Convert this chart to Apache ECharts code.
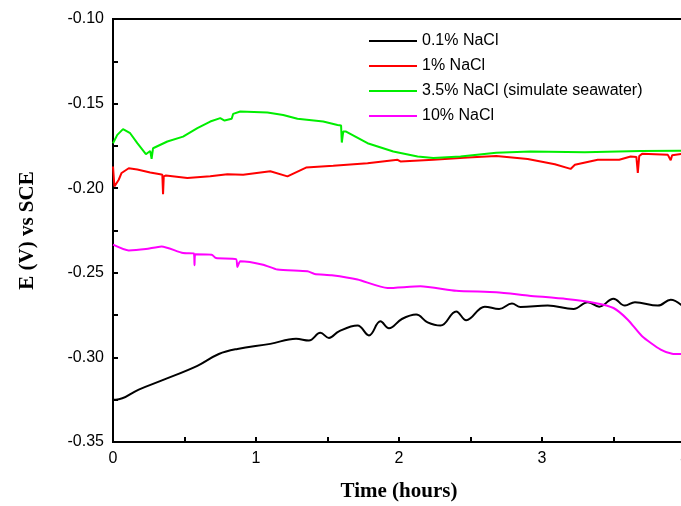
<!DOCTYPE html>
<html>
<head>
<meta charset="utf-8">
<script src="https://cdn.jsdelivr.net/npm/echarts@6/dist/echarts.min.js"></script>
<style>
  html, body { margin: 0; padding: 0; background: #fff; }
  #chart { width: 681px; height: 506px; }
</style>
</head>
<body>
<div id="chart"></div>
<script>
// 开路电位 vs 时间
const seriesNames = ['0.1% NaCl', '1% NaCl', '3.5% NaCl (simulate seawater)', '10% NaCl'];
const seriesColors = ['#000000', '#ff0000', '#00ee00', '#ff00ff'];

// 0.1% NaCl
const tBlack = [0, 0.02, 0.18, 0.36, 0.59, 0.74, 0.87, 1.10, 1.28, 1.37, 1.45, 1.51, 1.58, 1.71, 1.79, 1.87, 1.93, 2.02, 2.12, 2.20, 2.29, 2.40, 2.47, 2.60, 2.70, 2.79, 2.85, 3.04, 3.22, 3.32, 3.40, 3.50, 3.58, 3.65, 3.81, 3.90, 3.98];
const vBlack = [-0.325, -0.325, -0.319, -0.313, -0.305, -0.298, -0.295, -0.292, -0.289, -0.290, -0.2855, -0.2885, -0.2846, -0.2812, -0.287, -0.2787, -0.2828, -0.2773, -0.2747, -0.2793, -0.2812, -0.2728, -0.278, -0.270, -0.2714, -0.2682, -0.2702, -0.2694, -0.2714, -0.2674, -0.270, -0.2653, -0.2694, -0.2674, -0.2694, -0.2659, -0.2694];

// 1% NaCl
const tRed = [0, 0.01, 0.04, 0.06, 0.11, 0.17, 0.26, 0.33, 0.345, 0.35, 0.355, 0.37, 0.52, 0.68, 0.80, 0.91, 1.10, 1.22, 1.35, 1.54, 1.78, 1.99, 2.01, 2.24, 2.48, 2.68, 2.90, 3.09, 3.20, 3.23, 3.39, 3.54, 3.62, 3.66, 3.67, 3.68, 3.70, 3.88, 3.90, 3.91, 3.98];
const vRed = [-0.1872, -0.199, -0.195, -0.191, -0.1882, -0.189, -0.1907, -0.1917, -0.192, -0.2035, -0.193, -0.1925, -0.194, -0.193, -0.1917, -0.192, -0.190, -0.193, -0.1878, -0.1868, -0.1852, -0.1832, -0.1842, -0.1832, -0.1818, -0.1809, -0.1828, -0.1858, -0.1886, -0.1862, -0.1832, -0.1832, -0.1813, -0.1815, -0.191, -0.181, -0.1797, -0.1803, -0.1835, -0.1805, -0.1797];

// 3.5% NaCl
const tGreen = [0, 0.01, 0.03, 0.07, 0.12, 0.17, 0.23, 0.26, 0.27, 0.28, 0.38, 0.49, 0.59, 0.68, 0.75, 0.78, 0.83, 0.84, 0.89, 1.08, 1.19, 1.29, 1.47, 1.57, 1.595, 1.60, 1.61, 1.63, 1.78, 1.96, 2.13, 2.24, 2.43, 2.68, 2.92, 3.30, 3.69, 3.98];
const vGreen = [-0.1734, -0.1734, -0.1685, -0.1651, -0.1675, -0.1734, -0.1799, -0.178, -0.1826, -0.1764, -0.1724, -0.1695, -0.1645, -0.1606, -0.1586, -0.160, -0.159, -0.1561, -0.1547, -0.1553, -0.1567, -0.159, -0.1606, -0.1626, -0.163, -0.173, -0.1665, -0.1665, -0.1734, -0.1783, -0.1813, -0.1822, -0.1813, -0.179, -0.1783, -0.1787, -0.178, -0.1779];

// 10% NaCl
const tMagenta = [0, 0.11, 0.23, 0.34, 0.49, 0.565, 0.57, 0.575, 0.69, 0.72, 0.86, 0.87, 0.89, 1.05, 1.15, 1.36, 1.41, 1.53, 1.71, 1.92, 2.15, 2.40, 2.68, 2.91, 3.17, 3.37, 3.50, 3.60, 3.70, 3.83, 3.91, 3.98];
const vMagenta = [-0.2334, -0.2368, -0.236, -0.2344, -0.2383, -0.2385, -0.2455, -0.239, -0.2393, -0.2413, -0.2419, -0.2465, -0.2432, -0.2452, -0.2481, -0.2491, -0.2507, -0.2515, -0.254, -0.259, -0.258, -0.2606, -0.2615, -0.2635, -0.2655, -0.2678, -0.2708, -0.2777, -0.2875, -0.2954, -0.2978, -0.298];

const xTicks = [0, 1, 2, 3, 4];
const yTicks = [-0.35, -0.30, -0.25, -0.20, -0.15, -0.10];

const chartDom = document.getElementById('chart');
const myChart = echarts.init(chartDom);

const pairs = (ts, vs) => ts.map((t, i) => [t, vs[i]]);
const allData = [pairs(tBlack, vBlack), pairs(tRed, vRed), pairs(tGreen, vGreen), pairs(tMagenta, vMagenta)];

const axisFont = { fontFamily: 'Liberation Sans', fontSize: 16, color: '#000' };
const titleFont = { fontFamily: 'Liberation Serif', fontSize: 21, fontWeight: 'bold', color: '#000' };

const option = {
  animation: false,
  backgroundColor: '#fff',
  grid: {
    left: 113, top: 19, right: -4, bottom: 64,
    outerBoundsMode: 'none',
    containLabel: false,
    show: true, borderColor: '#000', borderWidth: 2, backgroundColor: 'transparent'
  },
  legend: {
    orient: 'vertical',
    left: 364, top: 28,
    icon: 'rect',
    itemWidth: 48, itemHeight: 2,
    itemGap: 9,
    textStyle: { fontFamily: 'Liberation Sans', fontSize: 16, color: '#000' },
    data: seriesNames
  },
  xAxis: {
    type: 'value',
    min: xTicks[0], max: xTicks[xTicks.length - 1], interval: 0.5,
    name: 'Time (hours)', nameLocation: 'middle', nameGap: 39,
    nameTextStyle: titleFont,
    axisLine: { lineStyle: { color: '#000', width: 2 } },
    axisTick: { inside: true, length: 5, lineStyle: { color: '#000', width: 2 } },
    axisLabel: Object.assign({
      margin: 9,
      formatter: v => xTicks.some(t => Math.abs(t - v) < 1e-6) ? String(Math.round(v)) : ''
    }, axisFont),
    splitLine: { show: false }
  },
  yAxis: {
    type: 'value',
    min: yTicks[0], max: yTicks[yTicks.length - 1], interval: 0.025,
    name: 'E (V) vs SCE', nameLocation: 'middle', nameGap: 75, nameRotate: 90,
    nameTextStyle: titleFont,
    axisLine: { show: true, lineStyle: { color: '#000', width: 2 } },
    axisTick: { show: true, inside: true, length: 5, lineStyle: { color: '#000', width: 2 } },
    axisLabel: Object.assign({
      margin: 9,
      formatter: v => yTicks.some(t => Math.abs(t - v) < 1e-6) ? v.toFixed(2) : ''
    }, axisFont),
    splitLine: { show: false }
  },
  series: seriesNames.map((name, i) => ({
    name: name,
    type: 'line',
    data: allData[i],
    showSymbol: false,
    smooth: i === 0 ? 0.4 : (i === 3 ? 0.2 : false),
    color: seriesColors[i],
    lineStyle: { color: seriesColors[i], width: 2 }
  }))
};

option && myChart.setOption(option);
</script>
</body>
</html>
